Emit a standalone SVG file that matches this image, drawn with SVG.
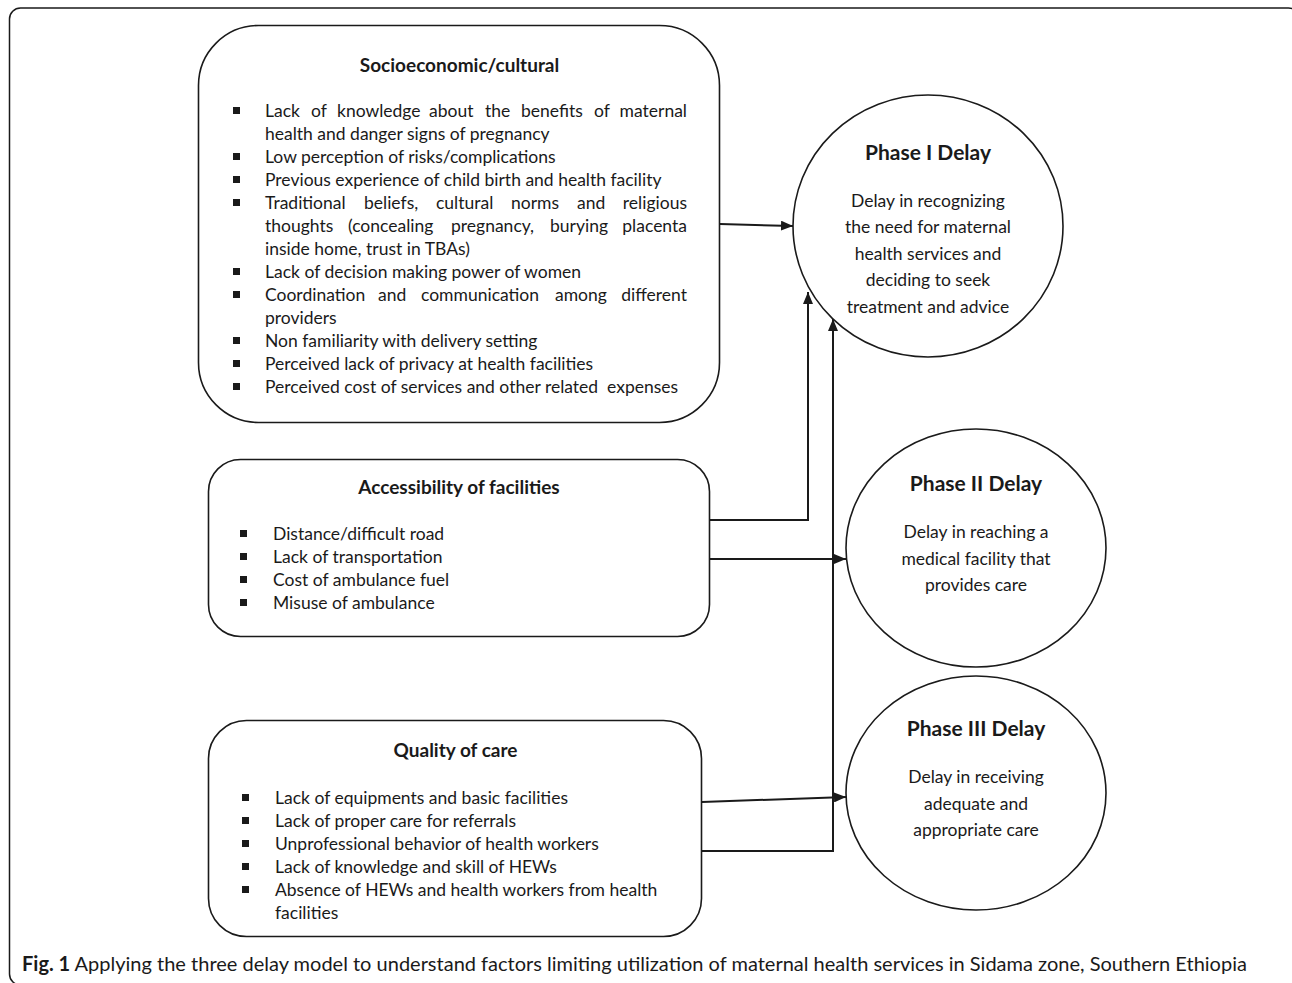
<svg xmlns="http://www.w3.org/2000/svg" width="1292" height="983" viewBox="0 0 1292 983">
<style>
.box{fill:#fff;stroke:#1a1a1a;stroke-width:1.6}
.frame{fill:none;stroke:#1a1a1a;stroke-width:1.5}
.t{font-family:Lato,"Open Sans",sans-serif;font-size:17.5px;fill:#1a1a1a}
.h{font-family:Lato,"Open Sans",sans-serif;font-size:19px;font-weight:bold;fill:#1a1a1a}
.p{font-family:Lato,"Open Sans",sans-serif;font-size:21px;font-weight:bold;fill:#1a1a1a}
.c{text-anchor:middle}
.e{text-anchor:end}
.b{fill:#1a1a1a}
.con{fill:none;stroke:#1a1a1a;stroke-width:2}
.cap{font-family:Lato,"Open Sans",sans-serif;font-size:20px;fill:#1a1a1a}
</style>
<defs>
<marker id="ah" viewBox="0 0 12 10" refX="12" refY="5" markerWidth="12" markerHeight="10" markerUnits="userSpaceOnUse" orient="auto">
<path d="M0,0 L12,5 L0,10 z" fill="#1a1a1a"/>
</marker>
</defs>
<rect class="frame" x="9.5" y="8" width="1290" height="977" rx="11"/>

<g id="socio">
<rect class="box" x="198.5" y="25.5" width="521" height="397" rx="60"/>
<text class="h c" x="459.5" y="72">Socioeconomic/cultural</text>
<rect class="b" x="233" y="107" width="7" height="7"/>
<rect class="b" x="233" y="153" width="7" height="7"/>
<rect class="b" x="233" y="176" width="7" height="7"/>
<rect class="b" x="233" y="199" width="7" height="7"/>
<rect class="b" x="233" y="268" width="7" height="7"/>
<rect class="b" x="233" y="291" width="7" height="7"/>
<rect class="b" x="233" y="337" width="7" height="7"/>
<rect class="b" x="233" y="360" width="7" height="7"/>
<rect class="b" x="233" y="383" width="7" height="7"/>
<text class="t" y="117"><tspan x="265">Lack</tspan><tspan x="311">of</tspan><tspan x="337">knowledge</tspan><tspan x="429">about</tspan><tspan x="485">the</tspan><tspan x="521">benefits</tspan><tspan x="594">of</tspan><tspan class="e" x="687">maternal</tspan></text>
<text class="t" x="265" y="140">health and danger signs of pregnancy</text>
<text class="t" x="265" y="163">Low perception of risks/complications</text>
<text class="t" x="265" y="186">Previous experience of child birth and health facility</text>
<text class="t" y="209"><tspan x="265">Traditional</tspan><tspan x="364">beliefs,</tspan><tspan x="436">cultural</tspan><tspan x="511">norms</tspan><tspan x="577">and</tspan><tspan class="e" x="687">religious</tspan></text>
<text class="t" y="232"><tspan x="265">thoughts</tspan><tspan x="348">(concealing</tspan><tspan x="451">pregnancy,</tspan><tspan x="550">burying</tspan><tspan class="e" x="687">placenta</tspan></text>
<text class="t" x="265" y="255">inside home, trust in TBAs)</text>
<text class="t" x="265" y="278">Lack of decision making power of women</text>
<text class="t" y="301"><tspan x="265">Coordination</tspan><tspan x="378">and</tspan><tspan x="421">communication</tspan><tspan x="555">among</tspan><tspan class="e" x="687">different</tspan></text>
<text class="t" x="265" y="324">providers</text>
<text class="t" x="265" y="347">Non familiarity with delivery setting</text>
<text class="t" x="265" y="370">Perceived lack of privacy at health facilities</text>
<text class="t" x="265" y="393" xml:space="preserve">Perceived cost of services and other related  expenses</text>
</g>

<g id="access">
<rect class="box" x="208.5" y="459.5" width="501" height="177" rx="32"/>
<text class="h c" x="459" y="494">Accessibility of facilities</text>
<rect class="b" x="240" y="530" width="7" height="7"/>
<rect class="b" x="240" y="553" width="7" height="7"/>
<rect class="b" x="240" y="576" width="7" height="7"/>
<rect class="b" x="240" y="599" width="7" height="7"/>
<text class="t" x="273" y="540">Distance/difficult road</text>
<text class="t" x="273" y="563">Lack of transportation</text>
<text class="t" x="273" y="586">Cost of ambulance fuel</text>
<text class="t" x="273" y="609">Misuse of ambulance</text>
</g>

<g id="quality">
<rect class="box" x="208.5" y="720.5" width="493" height="216" rx="38"/>
<text class="h c" x="455.5" y="757">Quality of care</text>
<rect class="b" x="242" y="794" width="7" height="7"/>
<rect class="b" x="242" y="817" width="7" height="7"/>
<rect class="b" x="242" y="840" width="7" height="7"/>
<rect class="b" x="242" y="863" width="7" height="7"/>
<rect class="b" x="242" y="886" width="7" height="7"/>
<text class="t" x="275" y="804">Lack of equipments and basic facilities</text>
<text class="t" x="275" y="827">Lack of proper care for referrals</text>
<text class="t" x="275" y="850">Unprofessional behavior of health workers</text>
<text class="t" x="275" y="873">Lack of knowledge and skill of HEWs</text>
<text class="t" x="275" y="896">Absence of HEWs and health workers from health</text>
<text class="t" x="275" y="919">facilities</text>
</g>

<g id="phase1">
<ellipse class="box" cx="928" cy="226" rx="135" ry="131"/>
<text class="p c" x="928" y="160">Phase I Delay</text>
<text class="t c" x="928" y="207">Delay in recognizing</text>
<text class="t c" x="928" y="233">the need for maternal</text>
<text class="t c" x="928" y="260">health services and</text>
<text class="t c" x="928" y="286">deciding to seek</text>
<text class="t c" x="928" y="313">treatment and advice</text>
</g>

<g id="phase2">
<ellipse class="box" cx="976" cy="548" rx="130" ry="119"/>
<text class="p c" x="976" y="491">Phase II Delay</text>
<text class="t c" x="976" y="538">Delay in reaching a</text>
<text class="t c" x="976" y="565">medical facility that</text>
<text class="t c" x="976" y="591">provides care</text>
</g>

<g id="phase3">
<ellipse class="box" cx="976" cy="793" rx="130" ry="117"/>
<text class="p c" x="976" y="736">Phase III Delay</text>
<text class="t c" x="976" y="783">Delay in receiving</text>
<text class="t c" x="976" y="810">adequate and</text>
<text class="t c" x="976" y="836">appropriate care</text>
</g>

<g id="connectors">
<path class="con" d="M720,224 L793,226" marker-end="url(#ah)"/>
<path class="con" d="M710,520 L808,520 L808,292" marker-end="url(#ah)"/>
<path class="con" d="M710,559 L846,559" marker-end="url(#ah)"/>
<path class="con" d="M702,802 L846,797" marker-end="url(#ah)"/>
<path class="con" d="M702,851 L833,851 L833,319" marker-end="url(#ah)"/>
</g>

<g id="caption">
<text class="cap" x="22" y="971"><tspan font-weight="bold">Fig. 1</tspan> Applying the three delay model to understand factors limiting utilization of maternal health services in Sidama zone, Southern Ethiopia</text>
</g>
</svg>
